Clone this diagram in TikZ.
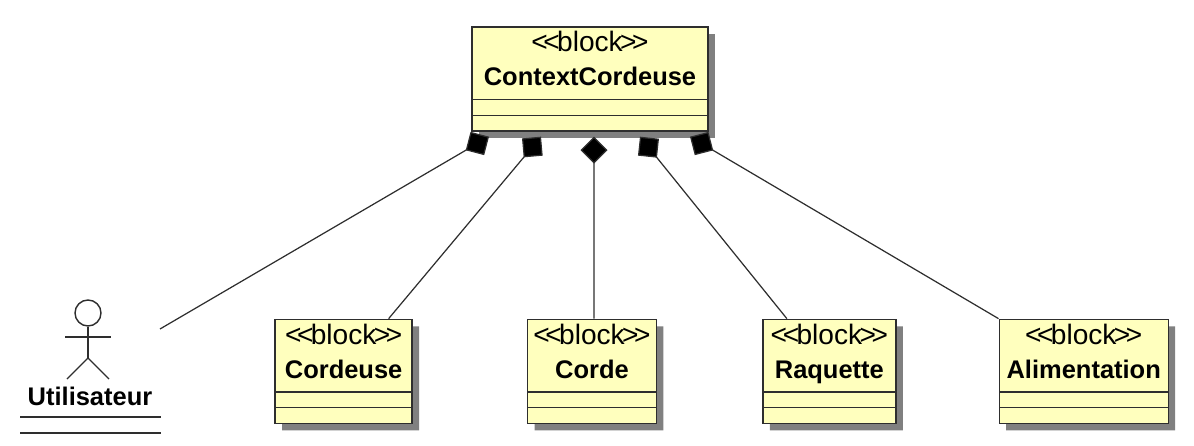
\documentclass[tikz,border=0pt]{standalone}
\usepackage{fontspec}
\setmainfont{Liberation Sans}
\usetikzlibrary{arrows.meta, positioning, shadows, shapes.multipart}
\definecolor{blockfill}{HTML}{FFFFBE}
\definecolor{blockline}{HTML}{2E2E2E}
\definecolor{blockshadow}{HTML}{808080}
\newcommand{\blocktext}[1]{\fontsize{16pt}{16pt}\selectfont\rule[-0.1cm]{0pt}{0.58cm}\textless\kern-2.5pt\textless\kern-1.5pt block\kern-1.5pt\textgreater\kern-2.5pt\textgreater\\[0.08cm]\fontsize{14.5pt}{15pt}\selectfont\bfseries\rule[-0.26cm]{0pt}{0.73cm}#1}

\begin{document}
\begin{tikzpicture}[x=0.02cm, y=0.02cm, node distance=3.74cm and 2.28cm, thick,
  block/.style={draw=blockline, line width=0.8pt, fill=blockfill, rectangle split, rectangle split parts=3,
    rectangle split empty part height=0.285cm, inner ysep=0pt, inner xsep=0pt, align=center, text=black,
    drop shadow={shadow xshift=0.14cm, shadow yshift=-0.14cm, fill=blockshadow, opacity=1}},
  composition/.style={draw=blockline, line width=0.7pt, {Diamond[length=0.54cm, width=0.54cm, fill=black]}-},
  actorline/.style={draw=blockline, line width=0.8pt}]

  \useasboundingbox (0,0) rectangle (1194,-446);

  % Bloc de contexte
  \node [block, minimum width=4.72cm] at (590,-79) (context) {\blocktext{ContextCordeuse}};

  % Blocs de la rangee inferieure
  \node [block, minimum width=2.58cm, below=of context, xshift=0.04cm] (corde) {\blocktext{Corde}};
  \node [block, minimum width=2.74cm, left=of corde] (cordeuse) {\blocktext{Cordeuse}};
  \node [block, minimum width=2.66cm, right=2.10cm of corde] (raquette) {\blocktext{Raquette}};
  \node [block, minimum width=3.38cm, right=2.04cm of raquette] (alimentation) {\blocktext{Alimentation}};

  % Acteur
  \node [circle, actorline, minimum size=0.52cm, inner sep=0pt] at (88,-313) (tete) {};
  \coordinate (bassin) at (88,-358);
  \coordinate (mainG) at (65,-337);
  \coordinate (mainD) at (111,-337);
  \coordinate (piedG) at (67,-379);
  \coordinate (piedD) at (109,-379);
  \node [font=\fontsize{14.5pt}{15pt}\selectfont\bfseries, inner sep=0pt] at (90,-396) (utilisateur) {Utilisateur};
  \coordinate (filG1) at (20,-417);
  \coordinate (filD1) at (161,-417);
  \coordinate (filG2) at (20,-433);
  \coordinate (filD2) at (161,-433);
  \coordinate (acteur) at (160,-329);

  \draw [actorline] (tete) -- (bassin);
  \draw [actorline] (mainG) -- (mainD);
  \draw [actorline] (piedG) -- (bassin) -- (piedD);
  \draw [actorline] (filG1) -- (filD1);
  \draw [actorline] (filG2) -- (filD2);

  % Compositions
  \draw [composition] ([xshift=-2.02cm, yshift=-0.10cm]context.south) -- (acteur);
  \draw [composition] ([xshift=-0.98cm, yshift=-0.10cm]context.south) -- ([xshift=0.9cm]cordeuse.north);
  \draw [composition] ([xshift=0.08cm, yshift=-0.10cm]context.south) -- ([xshift=0.04cm]corde.north);
  \draw [composition] ([xshift=1.0cm, yshift=-0.10cm]context.south) -- ([xshift=-0.85cm]raquette.north);
  \draw [composition] ([xshift=2.0cm, yshift=-0.10cm]context.south) -- (alimentation.north west);
\end{tikzpicture}
\end{document}
